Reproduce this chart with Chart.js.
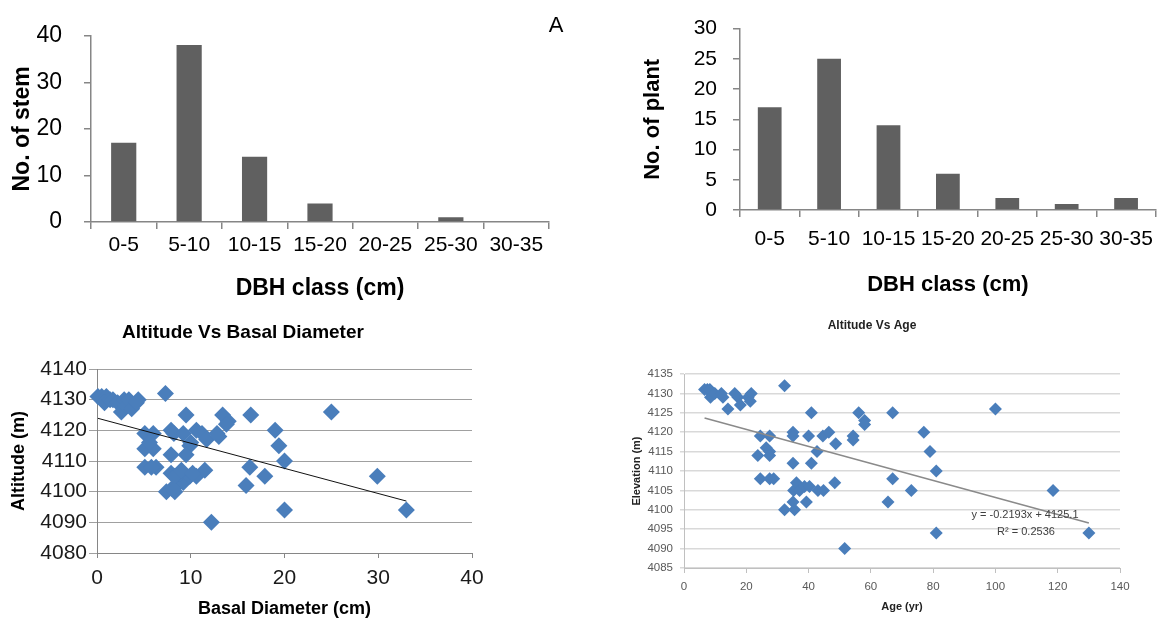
<!DOCTYPE html>
<html>
<head>
<meta charset="utf-8">
<script src="https://cdn.jsdelivr.net/npm/chart.js@4"></script>
<style>
  body { margin: 0; background: #fff; overflow: hidden; }
  .box { position: absolute; }
</style>
</head>
<body>
<div class="box" style="left:0;top:0;width:580px;height:310px"><canvas id="stemChart"></canvas></div>
<div class="box" style="left:600px;top:0;width:563px;height:310px"><canvas id="plantChart"></canvas></div>
<div class="box" style="left:0;top:310px;width:580px;height:312px"><canvas id="diameterChart"></canvas></div>
<div class="box" style="left:580px;top:310px;width:583px;height:312px"><canvas id="ageChart"></canvas></div>
<script>
const dbhClasses = ["0-5", "5-10", "10-15", "15-20", "20-25", "25-30", "30-35"];
const stemCounts = [17, 38, 14, 4, 0, 1, 0];
const plantCounts = [17, 25, 14, 6, 2, 1, 2];

// basal diameter (cm) vs altitude (m)
const basalDiameter = [
  0.1, 0.5, 1.0, 0.8, 1.4, 1.7, 2.2, 2.6, 2.9, 3.1, 3.4, 3.7, 4.2, 4.4, 7.3,
  9.5, 13.4, 14.0, 13.8, 16.4, 19.0, 19.4, 20.0, 25.0,
  5.1, 6.0, 7.9, 8.2, 9.2, 10.6, 11.2, 11.7, 13.0, 5.1, 6.0, 5.6, 9.9, 7.9, 9.5, 10.0, 12.8,
  5.1, 6.3, 5.8, 7.4, 8.3, 8.5, 9.2, 7.9, 8.8, 9.9, 10.6, 11.5, 8.3, 9.0, 8.0, 10.2,
  16.3, 15.9, 17.9, 12.2, 20.0, 29.9, 33.0
];
const basalAltitude = [
  4131, 4131, 4131, 4129, 4130, 4130, 4129, 4126, 4130, 4128, 4130, 4127, 4129, 4130, 4132,
  4125, 4125, 4123, 4122, 4125, 4120, 4115, 4110, 4126,
  4119, 4119, 4120, 4119, 4119, 4120, 4119, 4117, 4118, 4114, 4114, 4116, 4115, 4112, 4112, 4116, 4119,
  4108, 4108, 4108, 4100, 4100, 4102, 4103, 4106, 4106, 4105, 4105, 4107, 4105, 4107, 4101, 4106,
  4108, 4102, 4105, 4090, 4094, 4105, 4094
];

// age (yr) vs elevation (m)
const plantAge = [
  6.6, 7.5, 8.3, 8.5, 9.9, 12.0, 12.5, 14.1, 16.3, 17.3, 18.1, 20.6, 21.3, 21.6, 32.3,
  23.7, 24.5, 26.4, 27.5, 27.5, 27.5, 24.5, 27.5, 28.8, 35.0, 35.0, 35.0, 40.0, 40.9, 40.9,
  42.7, 44.6, 46.5, 48.7, 54.3, 54.3, 56.1, 58.0, 58.0, 67.0,
  32.3, 35.0, 35.5, 35.2, 36.1, 37.1, 38.7, 40.3, 39.3, 43.0, 44.8, 48.4, 51.6, 65.5, 67.0, 73.0,
  77.0, 79.0, 81.0, 81.0, 100.0, 118.5, 130.0
];
const plantElevation = [
  4131, 4131, 4131, 4129, 4130, 4130, 4129, 4126, 4130, 4129, 4127, 4129, 4128, 4130, 4132,
  4114, 4119, 4116, 4115, 4114, 4119, 4108, 4108, 4108, 4120, 4119, 4112, 4119, 4112, 4125,
  4115, 4119, 4120, 4117, 4119, 4118, 4125, 4123, 4122, 4125,
  4100, 4102, 4100, 4105, 4107, 4105, 4106, 4106, 4102, 4105, 4105, 4107, 4090, 4102, 4108, 4105,
  4120, 4115, 4110, 4094, 4126, 4105, 4094
];

// linear trend: slope, intercept
const diameterTrend = [-0.82, 4124.0];
const ageTrend = [-0.2193, 4125.1];

const notesPlugin = {
  id: "notes",
  afterDraw(chart, args, opts) {
    const ctx = chart.ctx;
    (opts.items || []).forEach(n => {
      ctx.save();
      ctx.font = n.font;
      ctx.fillStyle = n.color || "#000";
      ctx.textAlign = "center";
      ctx.textBaseline = "middle";
      ctx.fillText(n.text, n.x, n.y);
      ctx.restore();
    });
  }
};
Chart.register(notesPlugin);

const fixWidth = w => scale => { scale.width = w; };
const fixHeight = h => scale => { scale.height = h; };
const plain = v => String(v);

function pairs(xs, ys) {
  return xs.map((x, i) => ({ x: x, y: ys[i] }));
}
function trendLine(xs, fit) {
  const lo = Math.min(...xs), hi = Math.max(...xs);
  return [{ x: lo, y: fit[0] * lo + fit[1] }, { x: hi, y: fit[0] * hi + fit[1] }];
}

const sans = "'Liberation Sans', Arial, sans-serif";
const axisGray = "#868686";
const blue = "#4a7ebb";

// top left: stems per DBH class
new Chart(document.getElementById("stemChart"), {
  type: "bar",
  data: {
    labels: dbhClasses,
    datasets: [{ data: stemCounts, backgroundColor: "#606060", barPercentage: 0.385, categoryPercentage: 1 }]
  },
  options: {
    responsive: true, maintainAspectRatio: false, animation: false,
    layout: { padding: { top: 18, right: 31, left: 0, bottom: 0 } },
    plugins: {
      legend: { display: false }, tooltip: { enabled: false },
      notes: { items: [{ text: "A", x: 556, y: 26, font: "22px " + sans }] }
    },
    scales: {
      x: {
        grid: { drawOnChartArea: false, tickLength: 7, color: axisGray, lineWidth: 1.5 },
        border: { color: axisGray, width: 1.5 },
        ticks: { color: "#000", font: { family: sans, size: 21 }, padding: 4, maxRotation: 0, autoSkip: false },
        title: { display: true, text: "DBH class (cm)", color: "#000", font: { family: sans, size: 23, weight: "bold" }, padding: { top: 0, bottom: 8 } },
        afterFit: fixHeight(88)
      },
      y: {
        min: 0, max: 40,
        grid: { drawOnChartArea: false, tickLength: 7, color: axisGray, lineWidth: 1.5 },
        border: { color: axisGray, width: 1.5 },
        ticks: { stepSize: 10, color: "#000", font: { family: sans, size: 23 }, padding: 22 },
        title: { display: true, text: "No. of stem", color: "#000", font: { family: sans, size: 23, weight: "bold" }, padding: { top: 9, bottom: 0 } },
        afterFit: fixWidth(91)
      }
    }
  }
});

// top right: plants per DBH class
new Chart(document.getElementById("plantChart"), {
  type: "bar",
  data: {
    labels: dbhClasses,
    datasets: [{ data: plantCounts, backgroundColor: "#606060", barPercentage: 0.4, categoryPercentage: 1 }]
  },
  options: {
    responsive: true, maintainAspectRatio: false, animation: false,
    layout: { padding: { top: 26, right: 1, left: 0, bottom: 0 } },
    plugins: { legend: { display: false }, tooltip: { enabled: false } },
    scales: {
      x: {
        grid: { drawOnChartArea: false, tickLength: 7, color: axisGray, lineWidth: 1.5 },
        border: { color: axisGray, width: 1.5 },
        ticks: { color: "#000", font: { family: sans, size: 21 }, padding: 10, maxRotation: 0, autoSkip: false },
        title: { display: true, text: "DBH class (cm)", color: "#000", font: { family: sans, size: 22, weight: "bold" }, padding: { top: 0, bottom: 12 } },
        afterFit: fixHeight(100)
      },
      y: {
        min: 0, max: 30,
        grid: { drawOnChartArea: false, tickLength: 7, color: axisGray, lineWidth: 1.5 },
        border: { color: axisGray, width: 1.5 },
        ticks: { stepSize: 5, color: "#000", font: { family: sans, size: 21 }, padding: 16 },
        title: { display: true, text: "No. of plant", color: "#000", font: { family: sans, size: 22, weight: "bold" }, padding: { top: 40, bottom: 0 } },
        afterFit: fixWidth(140)
      }
    }
  }
});

// bottom left: altitude vs basal diameter
new Chart(document.getElementById("diameterChart"), {
  type: "scatter",
  data: {
    datasets: [
      { data: trendLine(basalDiameter, diameterTrend), showLine: true, borderColor: "#111", borderWidth: 1, pointRadius: 0, fill: false },
      { data: pairs(basalDiameter, basalAltitude), pointStyle: "rectRot", pointRadius: 8.5, backgroundColor: blue, borderColor: blue, borderWidth: 0, clip: false }
    ]
  },
  options: {
    responsive: true, maintainAspectRatio: false, animation: false,
    layout: { padding: { top: 59, right: 108, left: 0, bottom: 0 } },
    plugins: {
      legend: { display: false }, tooltip: { enabled: false },
      notes: { items: [{ text: "Altitude Vs Basal Diameter", x: 243, y: 23, font: "bold 19px " + sans }] }
    },
    scales: {
      x: {
        min: 0, max: 40,
        grid: { drawOnChartArea: false, tickLength: 5, color: axisGray },
        border: { color: axisGray },
        ticks: { stepSize: 10, color: "#1a1a1a", font: { family: sans, size: 21 }, padding: 8, callback: plain },
        title: { display: true, text: "Basal Diameter (cm)", color: "#000", font: { family: sans, size: 18, weight: "bold" }, padding: { top: 0, bottom: 2 } },
        afterFit: fixHeight(69)
      },
      y: {
        min: 4080, max: 4140,
        grid: { tickLength: 8, color: "#a0a0a0" },
        border: { color: axisGray },
        ticks: { stepSize: 10, color: "#1a1a1a", font: { family: sans, size: 21 }, padding: 2, callback: plain },
        title: { display: true, text: "Altitude (m)", color: "#000", font: { family: sans, size: 18, weight: "bold" }, padding: { top: 8, bottom: 0 } },
        afterFit: fixWidth(97)
      }
    }
  }
});

// bottom right: elevation vs age
new Chart(document.getElementById("ageChart"), {
  type: "scatter",
  data: {
    datasets: [
      { data: trendLine(plantAge, ageTrend), showLine: true, borderColor: "#8a8a8a", borderWidth: 1.5, pointRadius: 0, fill: false },
      { data: pairs(plantAge, plantElevation), pointStyle: "rectRot", pointRadius: 6.5, backgroundColor: blue, borderColor: blue, borderWidth: 0, clip: false }
    ]
  },
  options: {
    responsive: true, maintainAspectRatio: false, animation: false,
    layout: { padding: { top: 64, right: 43, left: 0, bottom: 0 } },
    plugins: {
      legend: { display: false }, tooltip: { enabled: false },
      notes: {
        items: [
          { text: "Altitude Vs Age", x: 292, y: 16, font: "bold 12px " + sans, color: "#222" },
          { text: "y = -0.2193x + 4125.1", x: 445, y: 205, font: "11px " + sans, color: "#404040" },
          { text: "R\u00b2 = 0.2536", x: 446, y: 222, font: "11px " + sans, color: "#404040" }
        ]
      }
    },
    scales: {
      x: {
        min: 0, max: 140,
        grid: { drawOnChartArea: false, tickLength: 5, color: "#c0c0c0" },
        border: { color: "#c0c0c0" },
        ticks: { stepSize: 20, color: "#595959", font: { family: sans, size: 11.5 }, padding: 7, callback: plain },
        title: { display: true, text: "Age (yr)", color: "#222", font: { family: sans, size: 11, weight: "bold" }, padding: { top: 0, bottom: 8 } },
        afterFit: fixHeight(54)
      },
      y: {
        min: 4085, max: 4135,
        grid: { tickLength: 4, color: "#d9d9d9", lineWidth: 1.5 },
        border: { color: "#c0c0c0" },
        ticks: { stepSize: 5, color: "#595959", font: { family: sans, size: 11.5 }, padding: 7, callback: plain },
        title: { display: true, text: "Elevation (m)", color: "#222", font: { family: sans, size: 11, weight: "bold" }, padding: { top: 50, bottom: 0 } },
        afterFit: fixWidth(104)
      }
    }
  }
});
</script>
</body>
</html>
